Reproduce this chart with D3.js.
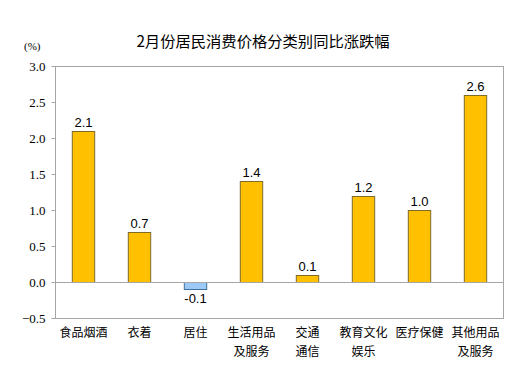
<!DOCTYPE html>
<html><head><meta charset="utf-8">
<script src="https://cdn.jsdelivr.net/npm/d3@7"></script>
<style>body{margin:0;background:#fff}svg{display:block}</style>
</head><body>
<script>
const categories = [["食品烟酒"],["衣着"],["居住"],["生活用品","及服务"],["交通","通信"],["教育文化","娱乐"],["医疗保健"],["其他用品","及服务"]];
const values = [2.1, 0.7, -0.1, 1.4, 0.1, 1.2, 1.0, 2.6];
const valueLabels = ["2.1","0.7","-0.1","1.4","0.1","1.2","1.0","2.6"];
const tickValues = [-0.5, 0, 0.5, 1.0, 1.5, 2.0, 2.5, 3.0];
const title = "2月份居民消费价格分类别同比涨跌幅";
const unit = "(%)";

const W = 527, H = 367;
const m = {left: 55, right: 24, top: 66, bottom: 49};
const svg = d3.select("body").append("svg").attr("width", W).attr("height", H);
const x = d3.scaleBand().domain(d3.range(categories.length)).range([m.left, W - m.right]).paddingInner(0.6).paddingOuter(0.3);
const y = d3.scaleLinear().domain([-0.5, 3.0]).range([H - m.bottom, m.top]);

svg.append("text").attr("x", 263).attr("y", 47).attr("text-anchor", "middle")
  .attr("font-family", "Noto Sans CJK SC").attr("font-size", 15.3).attr("fill", "#000").text(title);
svg.append("text").attr("x", 24).attr("y", 50)
  .attr("font-family", "Liberation Serif").attr("font-size", 11).attr("fill", "#000").text(unit);

// plot frame
svg.append("rect").attr("x", m.left + 0.5).attr("y", y(3.0) + 0.5)
  .attr("width", W - m.right - m.left).attr("height", y(-0.5) - y(3.0))
  .attr("fill", "none").attr("stroke", "#a6a6a6");

// y axis
const yAxis = d3.axisLeft(y).tickValues(tickValues).tickSize(4).tickPadding(6)
  .tickFormat(d3.format(".1f"));
const ga = svg.append("g").attr("transform", `translate(${m.left + 0.5},0)`).call(yAxis);
ga.select(".domain").remove();
ga.selectAll(".tick line").attr("stroke", "#a6a6a6");
ga.selectAll(".tick text").attr("font-family", "Liberation Serif").attr("font-size", 13).attr("fill", "#000");

// bars
svg.selectAll("rect.bar").data(values).join("rect").attr("class", "bar")
  .attr("x", (d, i) => x(i) + 0.5)
  .attr("y", d => Math.round(y(Math.max(0, d))) + 0.5)
  .attr("width", x.bandwidth())
  .attr("height", d => Math.abs(Math.round(y(d)) - Math.round(y(0))))
  .attr("fill", d => d < 0 ? "#9dc9f7" : "#ffc000")
  .attr("stroke", d => d < 0 ? "#41719c" : "#7f6a2a").attr("stroke-width", 1);

// zero line
svg.append("line").attr("x1", m.left).attr("x2", W - m.right)
  .attr("y1", Math.round(y(0)) + 0.5).attr("y2", Math.round(y(0)) + 0.5)
  .attr("stroke", "#a6a6a6");

// value labels
svg.selectAll("text.val").data(values).join("text").attr("class", "val")
  .attr("x", (d, i) => x(i) + x.bandwidth() / 2 + 0.5)
  .attr("y", d => d < 0 ? y(d) + 14 : y(d) - 4)
  .attr("text-anchor", "middle").attr("font-family", "Liberation Sans").attr("font-size", 13).attr("fill", "#000")
  .text((d, i) => valueLabels[i]);

// category labels
const cg = svg.selectAll("text.cat").data(categories).join("text").attr("class", "cat")
  .attr("x", (d, i) => x(i) + x.bandwidth() / 2 + 0.5)
  .attr("y", y(-0.5) + 19)
  .attr("text-anchor", "middle").attr("font-family", "Noto Sans CJK SC").attr("font-size", 12).attr("fill", "#000");
cg.selectAll("tspan").data(d => d).join("tspan")
  .attr("x", function() { return d3.select(this.parentNode).attr("x"); })
  .attr("dy", (d, j) => j === 0 ? 0 : 19).text(d => d);
</script>
</body></html>
